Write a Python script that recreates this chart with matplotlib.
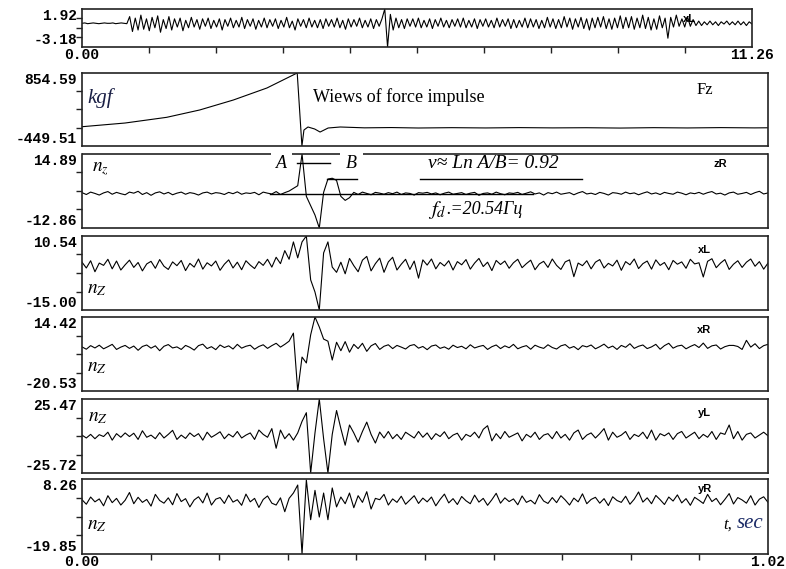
import numpy as np
import matplotlib.pyplot as plt

# ---- values ----
# top strip: whole record, 0 .. 11.26 s
top_tmax = 11.26
top_lim = (-3.18, 1.92)
top_vals = [
    0.0, 0.05, -0.05, 0.0, 0.05, 0.0, -0.05, 0.0, 0.05, 0.0,
    0.0, 0.05, -0.05, 0.0, 0.05, 0.0, -0.05,
    0.9, -1.1, 0.7, -0.9, 1.1, -0.8, 0.6, -1.0, 0.8, -0.6,
    1.0, -1.2, 0.5, -0.7, 0.9, -0.9, 0.6, -0.5, 0.7, -1.0,
    0.4, -0.6, 0.8, -0.5, 0.5, -0.8, 0.6, -0.4, 0.7, -0.7,
    0.4, -0.5, 0.6, -0.9, 0.5, -0.4, 0.7, -0.6, 0.4, -0.5,
    0.8, -0.7, 0.5, -0.4, 0.6, -0.8, 0.4, -0.5, 0.7, -0.6,
    0.5, -0.4, 0.6, -0.7, 0.4, -0.5, 0.8, -0.6, 0.3, -0.9,
    0.6, -0.4, 0.5, -0.6, 0.7, -0.5, 0.4, -0.6, 0.5, -0.7,
    0.6, -0.4, 0.5, -0.5, 0.7, -0.6, 0.4, -0.8, 0.6, -0.5,
    0.5, -0.4, 0.7, -0.6, 0.4, -0.5, 0.6, -0.7, 0.5, -0.4,
    0.6,
    1.92, -3.18,
    1.2, -0.9, 0.7, -0.6, 0.5, -0.7, 0.6, -0.4, 0.6, -0.5,
    0.7, -0.6, 0.4, -0.5, 0.6, -0.7, 0.5, -0.4, 0.7, -0.5,
    0.4, -0.6, 0.5, -0.4, 0.6, -0.5, 0.7, -0.6, 0.4, -0.5,
    0.6, -0.7, 0.5, -0.4, 0.6, -0.5, 0.4, -0.6, 0.7, -0.5,
    0.5, -0.4, 0.6, -0.7, 0.5, -0.6, 0.4, -0.5, 0.7, -0.6,
    0.6, -0.5, 0.5, -0.7, 0.4, -0.6, 0.8, -0.5, 0.6, -0.7,
    0.5, -0.6, 0.9, -0.5, 0.7, -0.8, 0.6, -0.5, 0.8, -0.7,
    0.6, -0.9, 0.7, -0.6, 0.8, -0.5, 0.9, -0.7, 0.6, -0.8,
    0.7, -0.6, 1.0, -0.7, 0.8, -0.6, 0.9, -0.8, 0.7, -0.6,
    1.1, -0.7, 0.8, -0.9, 0.6, -0.8, 1.0, -0.6, 0.7,
    -2.0,
    0.8, -0.5, 1.1, -0.4, 0.6, -0.5, 0.9, -0.4, 0.5, -0.3,
    0.3, -0.3, 0.2, -0.2, 0.3, -0.2, 0.2, -0.3, 0.2, -0.1,
    0.3, -0.2, 0.2, -0.2, 0.3, -0.2, 0.2, -0.3, 0.2, -0.1,
]

# zoomed window 0 .. 1.02 s
t_max = 1.02

fz_lim = (-449.51, 854.59)
fz_t = [0.000, 0.064, 0.126, 0.175, 0.225, 0.275, 0.317, 0.320, 0.327, 0.330,
        0.336, 0.346, 0.354, 0.366, 0.384, 0.42, 0.46, 0.50, 0.55, 0.60,
        0.65, 0.70, 0.75, 0.80, 0.85, 0.90, 0.95, 1.00, 1.02]
fz_v = [-105, -39, 63, 194, 372, 587, 837, 854.59, -449.51, -164,
        -110, -146, -200, -128, -110, -125, -120, -128, -122, -127,
        -121, -126, -123, -129, -122, -127, -121, -126, -124]

zr_lim = (-12.86, 14.89)
zr_vals = [
    0.4, -0.3, 0.6, 0.1, -0.5, 0.3, 0.8, -0.2, 0.5, 0.0,
    -0.4, 0.6, 0.2, 0.9, -0.3, 0.4, -0.6, 0.3, 0.7, -0.1,
    0.5, -0.4, 0.2, 0.6, -0.2, 0.4, 0.1, -0.5, 0.3, 0.6,
    -0.1, 0.4, 0.2, -0.3, 0.5, 0.0, 0.7, -0.2, 0.3, 0.1,
    0.5, -0.4, 0.6, 0.2, -0.1, 0.8, -0.3, 0.4, 1.0, 2.0,
    3.0, 14.89, -1.0, -4.5, -8.0, -12.86, 0.5, 5.5, 5.8, 5.0,
    -1.0, -2.5, -1.5, 0.5, -0.3, 0.6, 0.1, -0.4, 0.5, 0.2,
    -0.2, 0.4, 0.0, 0.6, -0.3, 0.3, 0.1, -0.5, 0.4, 0.2,
    0.5, -0.1, 0.3, -0.4, 0.2, 0.6, -0.2, 0.1, 0.4, -0.3,
    0.2, 0.5, -0.6, 0.1, 0.3, -0.2, 0.6, 0.0, -0.4, 0.3,
    0.1, 0.5, -0.3, 0.2, 0.7, -0.1, 0.3, -0.5, 0.4, 0.0,
    0.6, -0.2, 0.1, 0.4, -0.4, 0.3, 0.8, -0.1, 0.2, -0.3,
    0.5, 0.1, -0.5, 0.4, 0.2, -0.2, 0.6, 0.0, 0.3, -0.4,
    0.2, 0.7, -0.1, 0.3, -0.3, 0.5, 0.1, -0.2, 0.6, 0.2,
    -0.4, 0.3, 0.0, 0.5, -0.2, 0.4, 0.8, -0.1, 0.2, -0.5,
    0.3, 0.6, -0.2, 0.1, 0.5, -0.3, 0.4, 0.9, -0.1, 0.3,
]
# A / B levels and the log-decrement helper lines on the zR panel
a_level, a_t = 11.5, (0.320, 0.369)
b_level, b_t = 5.5, (0.365, 0.409)
nu_line_t = (0.503, 0.743)
zero_line_t = (0.28, 0.67)

xl_lim = (-15.00, 10.54)
xl_vals = [
    1.5, -0.5, 2.0, -1.8, 1.2, 0.4, 2.5, -0.8, 1.9, -1.2,
    0.6, 2.2, -0.3, 1.4, -1.5, 0.9, 1.8, -0.6, 2.4, 0.1,
    -1.0, 1.6, 0.3, 2.1, -1.4, 1.1, -0.2, 2.6, -0.9, 1.3,
    0.2, 1.9, -1.3, 0.8, 2.3, -0.5, 1.5, -1.1, 2.0, 0.5,
    -0.7, 1.7, 0.4, 2.5, -0.2, 3.2, 1.0, 5.5, 2.5, 8.5,
    3.0, 8.5, 10.54, -4.6, -8.8, -15.0, 4.7, 8.5, -0.2, -2.0,
    1.5, -2.5, 2.8, 0.3, -1.8, 2.2, 3.5, -1.5, 1.0, 2.9,
    -2.0, 1.6, 3.2, -1.2, 0.8, 2.5, -1.0, 1.9, -4.0, 2.3,
    0.5, 2.6, -0.8, 1.4, 0.2, 2.0, -1.2, 1.7, 0.6, 2.4,
    -0.9, 1.2, 2.8, 0.0, 1.5, -1.4, 2.1, 0.7, 1.9, -0.6,
    1.3, 2.5, -0.4, 1.0, 2.2, -1.1, 0.9, 1.8, -0.3, 2.6,
    0.4, -1.0, 1.6, 2.3, -3.5, 1.2, 0.3, 2.0, -0.8, 1.5,
    2.4, -0.5, 1.1, 0.2, 2.2, -1.3, 1.7, 0.6, 2.6, -0.7,
    1.0, 1.9, -0.9, 2.3, 0.4, 1.4, -1.1, 2.1, 0.8, 1.6,
    -0.6, 2.5, 0.9, 1.3, -3.6, 1.8, 2.7, -0.4, 1.2, 2.4,
    -1.0, 0.8, 2.0, -0.3, 1.5, 2.6, 0.1, 1.7, -0.9, 1.2,
]

xr_lim = (-20.53, 14.42)
xr_vals = [
    0.3, -0.8, 0.9, -0.2, 1.1, -0.6, 0.4, 1.5, -0.9, 0.2,
    1.0, -0.4, 0.7, -1.3, 0.5, 1.2, -0.3, 0.8, -1.5, 0.6,
    1.4, -0.2, 0.3, -0.9, 1.0, 0.1, -1.2, 0.9, 1.6, -0.5,
    0.4, -1.0, 1.2, 0.0, 0.8, -0.7, 1.5, -0.3, 0.6, 1.1,
    -0.8, 0.5, 1.3, -0.4, 0.9, 2.0, 0.2, 1.5, 3.0, 6.8,
    -20.53, -4.5, -7.3, 6.0, 14.42, 9.7, 4.0, 3.0, -5.9, 2.5,
    -1.5, 2.8, -2.2, 1.5, -0.5, 2.0, -1.8, 0.8, 1.9, -0.9,
    0.6, 1.3, -0.5, 1.0, 0.2, -0.7, 0.9, 1.4, -0.3, 0.5,
    -1.0, 0.7, 1.2, -0.4, 0.3, -0.8, 1.1, 0.0, 0.6, -0.6,
    1.3, -0.2, 0.5, 1.0, -0.9, 0.4, 1.2, -0.5, 0.8, -0.1,
    1.5, -0.6, 0.3, 0.9, -0.8, 1.1, 0.2, -0.4, 1.3, 0.0,
    -0.7, 0.8, 1.4, -0.3, 0.5, -1.0, 0.9, 0.3, 1.2, -0.6,
    0.4, 1.6, -0.2, 0.7, -0.9, 1.0, 0.1, 1.8, -0.4, 0.6,
    1.2, -0.5, 0.3, 1.5, -0.8, 0.9, 2.0, -0.3, 0.7, 1.1,
    -0.6, 0.5, 1.4, 0.0, 2.1, -0.4, 0.8, 1.2, -0.7, 0.4,
    1.0, 1.0, 0.5, -0.9, 3.4, 0.2, 1.8, -0.5, 0.9, 1.5,
]

yl_lim = (-25.72, 25.47)
yl_vals = [
    0.5, -1.5, 1.0, -2.0, 0.8, -0.5, 2.5, -3.0, 1.5, -1.0,
    2.0, -0.5, 1.8, -2.5, 3.5, -1.0, 0.5, -2.0, 2.2, -1.5,
    1.0, 3.8, -2.5, 0.5, -1.8, 2.0, -0.5, 1.5, -3.0, 2.5,
    -1.0, 0.8, 2.8, -2.0, 1.2, -0.8, 3.0, -1.5, 0.5, 2.0,
    -2.5, 4.0, 1.0, -1.0, 5.0, -8.6, 4.0, -2.0, 1.5, -3.0,
    2.0, 10.0, 16.0, -25.72, 2.0, 25.47, -2.0, -25.72, 1.0, 17.5,
    5.0, -6.5, 7.5, 2.0, -4.4, 3.0, 9.5, 1.0, -5.0, 2.6,
    -1.5, 3.0, -2.0, 1.0, -2.5, 2.5, 0.5, -1.5, 3.0, -1.0,
    2.0, -2.5, 1.5, -0.5, 2.8, -2.0, 0.5, 1.8, -3.0, 1.0,
    -0.5, 2.5, -1.5, 4.5, 7.0, -3.5, 1.5, -2.0, 3.0, -1.0,
    0.5, 2.0, -3.5, 1.0, -1.0, 2.5, -2.5, 0.5, 1.5, -2.0,
    3.0, -1.5, 1.0, -3.0, 2.0, 4.0, -2.5, 0.5, 2.0, -1.5,
    1.5, 5.0, -3.0, 2.5, -1.0, 0.5, 3.0, -2.5, 1.0, -0.5,
    2.5, -2.0, 4.0, -3.0, 1.5, 0.0, 2.0, -2.5, 1.5, 3.0,
    -1.5, 0.5, 2.5, -2.0, 1.0, -1.0, 3.0, -2.5, 2.0, 1.0,
    7.5, -2.0, 3.0, -3.0, 1.0, 2.0, -1.5, 0.5, 2.5, 0.0,
]

yr_lim = (-19.85, 8.26)
yr_vals = [
    0.5, -1.2, 1.5, -0.3, 0.8, -1.8, 2.0, -0.6, 1.0, -1.5,
    0.3, 3.2, -1.0, 1.4, -0.5, 0.6, -1.9, 2.5, 0.2, -0.8,
    1.2, -1.4, 2.8, -0.2, 0.9, -2.2, 0.4, 1.6, -0.7, 3.0,
    -1.5, 0.7, 1.3, -0.9, 2.2, -0.4, 0.5, -1.6, 2.6, -0.3,
    1.0, -2.4, 0.6, 1.9, -0.8, -1.5, 1.2, -4.0, 1.0, 3.0,
    6.0, -19.85, 7.9, -7.0, 4.0, -6.0, 3.0, -7.0, 4.9, -2.2,
    1.5, -1.0, 3.0, -2.5, 2.0, -0.5, 3.5, -3.0, 1.0, 0.5,
    2.5, -1.5, 0.8, -0.5, 1.8, -1.2, 0.4, 2.0, -0.9, 1.1,
    -0.3, 1.5, -1.8, 0.6, 2.6, -0.7, 0.9, -1.3, 1.7, 0.1,
    -1.0, 2.2, -0.4, 1.0, -1.6, 0.5, 2.9, -0.8, 1.2, -0.2,
    0.8, -1.4, 1.9, -0.5, 0.3, -1.1, 2.4, 0.0, -0.9, 1.3,
    -0.6, 2.0, 0.4, -1.5, 1.1, -0.3, 2.7, -1.0, 0.6, 1.4,
    -0.8, 0.9, -1.7, 1.6, 0.2, -0.5, 1.8, -1.2, 0.7, 3.4,
    -0.4, 1.2, -1.0, 2.1, 0.5, -1.3, 1.5, 0.0, 2.3, -0.7,
    0.9, -1.6, 1.4, 0.3, -0.9, 2.5, -0.2, 1.0, -1.4, 0.6,
    2.8, -1.1, 1.3, 0.4, -0.8, 2.0, -1.5, 0.7, 1.6, -0.5,
]

# ---- figure ----
W, H = 786, 569
fig = plt.figure(figsize=(W / 100, H / 100), dpi=100)
fig.patch.set_facecolor('white')

mono = dict(family='Liberation Mono', weight='bold', size=10.5)
serif = ['Liberation Serif', 'DejaVu Serif']
chan = dict(family='Liberation Sans', weight='bold', size=8)


def px(x, y):
    return x / W, 1 - y / H


def panel(x0, y0, x1, y1, lim, xmax, xlabels=None):
    ax = fig.add_axes([x0 / W, 1 - y1 / H, (x1 - x0) / W, (y1 - y0) / H])
    ax.set_xlim(0, xmax)
    ax.set_ylim(*lim)
    for s in ax.spines.values():
        s.set_linewidth(1.2)
        s.set_color('#222222')
    span = lim[1] - lim[0]
    ax.set_yticks([])
    ax.set_yticks([lim[0] + k * span / 4 for k in (1, 2, 3)], minor=True)
    ax.tick_params(axis='y', which='minor', length=4, width=1, direction='out', color='#222222')
    if xlabels:
        ax.set_xticks([0, xmax])
        ax.set_xticklabels(xlabels, fontdict=mono)
        ax.set_xticks([k * xmax / 10 for k in range(1, 10)], minor=True)
        ax.tick_params(axis='x', which='major', length=0, pad=1)
        ax.tick_params(axis='x', which='minor', length=4, width=1, direction='out', color='#222222')
    else:
        ax.set_xticks([])
    # max / min labels at the left corners
    dx = -5 / (x1 - x0)
    ax.text(dx, 1.0, f'{lim[1]:.2f}', transform=ax.transAxes, ha='right', va='top', **mono)
    ax.text(dx, 0.0, f'{lim[0]:.2f}', transform=ax.transAxes, ha='right', va='bottom', **mono)
    return ax


lw = 0.8

# top strip
ax1 = panel(82, 9, 752, 47, top_lim, top_tmax, ['0.00', '11.26'])
ax1.plot(np.linspace(0, top_tmax, len(top_vals)), top_vals, color='black', lw=lw)
fig.text(*px(683, 19), 'xL', fontdict=chan, va='center')

# Fz
ax2 = panel(82, 73, 768, 146, fz_lim, t_max)
ax2.plot(fz_t, fz_v, color='black', lw=lw)
fig.text(*px(87, 98), 'kgf', family=serif, style='italic', size=15, color='#1a1f45', va='center')
fig.text(*px(313, 97), 'Wiews of force impulse', family=serif, size=13, va='center')
fig.text(*px(697, 90), 'Fz', family=serif, size=12, va='center')

# zR
ax3 = panel(82, 154, 768, 228, zr_lim, t_max)
ax3.plot(np.linspace(0, t_max, len(zr_vals)), zr_vals, color='black', lw=lw)
ax3.plot(zero_line_t, [0, 0], color='black', lw=1.0)
ax3.plot(a_t, [a_level, a_level], color='black', lw=1.0)
ax3.plot(b_t, [b_level, b_level], color='black', lw=1.0)
ax3.plot(nu_line_t, [b_level, b_level], color='black', lw=1.0)
# the scan's top border of this panel is broken around the A/B marks
ax3.spines['top'].set_visible(False)
for seg in [(0.0, 0.2755), (0.306, 0.376), (0.41, 1.0)]:
    ax3.plot(seg, [1, 1], transform=ax3.transAxes, color='#222222', lw=1.2,
             clip_on=False, solid_capstyle='butt')
fig.text(*px(276, 163), 'A', family=serif, style='italic', size=13, va='center')
fig.text(*px(346, 163), 'B', family=serif, style='italic', size=13, va='center')
fig.text(*px(428, 164), 'ν≈ Ln A/B= 0.92', family=serif, style='italic', size=14, va='center')
fig.text(*px(428, 210), r'$f_d$', math_fontfamily='stix', size=15, va='center')
fig.text(*px(446, 209), '.=20.54Гц', family=serif, style='italic', size=13, va='center')
fig.text(*px(92, 168), r'$n_z$', math_fontfamily='stix', size=14, va='center')
fig.text(*px(713, 164), 'zR', fontdict=chan, va='center')

# xL
ax4 = panel(82, 236, 768, 310, xl_lim, t_max)
ax4.plot(np.linspace(0, t_max, len(xl_vals)), xl_vals, color='black', lw=lw)
fig.text(*px(87, 289), r'$n_Z$', math_fontfamily='stix', size=14, va='center')
fig.text(*px(698, 250), 'xL', fontdict=chan, va='center')

# xR
ax5 = panel(82, 317, 768, 391, xr_lim, t_max)
ax5.plot(np.linspace(0, t_max, len(xr_vals)), xr_vals, color='black', lw=lw)
fig.text(*px(87, 367), r'$n_Z$', math_fontfamily='stix', size=14, va='center')
fig.text(*px(697, 330), 'xR', fontdict=chan, va='center')

# yL
ax6 = panel(82, 399, 768, 473, yl_lim, t_max)
ax6.plot(np.linspace(0, t_max, len(yl_vals)), yl_vals, color='black', lw=lw)
fig.text(*px(88, 416), r'$n_Z$', math_fontfamily='stix', size=14, va='center')
fig.text(*px(698, 413), 'yL', fontdict=chan, va='center')

# yR
ax7 = panel(82, 479, 768, 554, yr_lim, t_max, ['0.00', '1.02'])
ax7.plot(np.linspace(0, t_max, len(yr_vals)), yr_vals, color='black', lw=lw)
fig.text(*px(87, 525), r'$n_Z$', math_fontfamily='stix', size=14, va='center')
fig.text(*px(698, 489), 'yR', fontdict=chan, va='center')
fig.text(*px(723, 525), 't,', family=serif, style='italic', size=12, va='center')
fig.text(*px(737, 523), 'sec', family=serif, style='italic', size=15, color='#1a2a66', va='center')

fig.savefig('out.png', dpi=100)
